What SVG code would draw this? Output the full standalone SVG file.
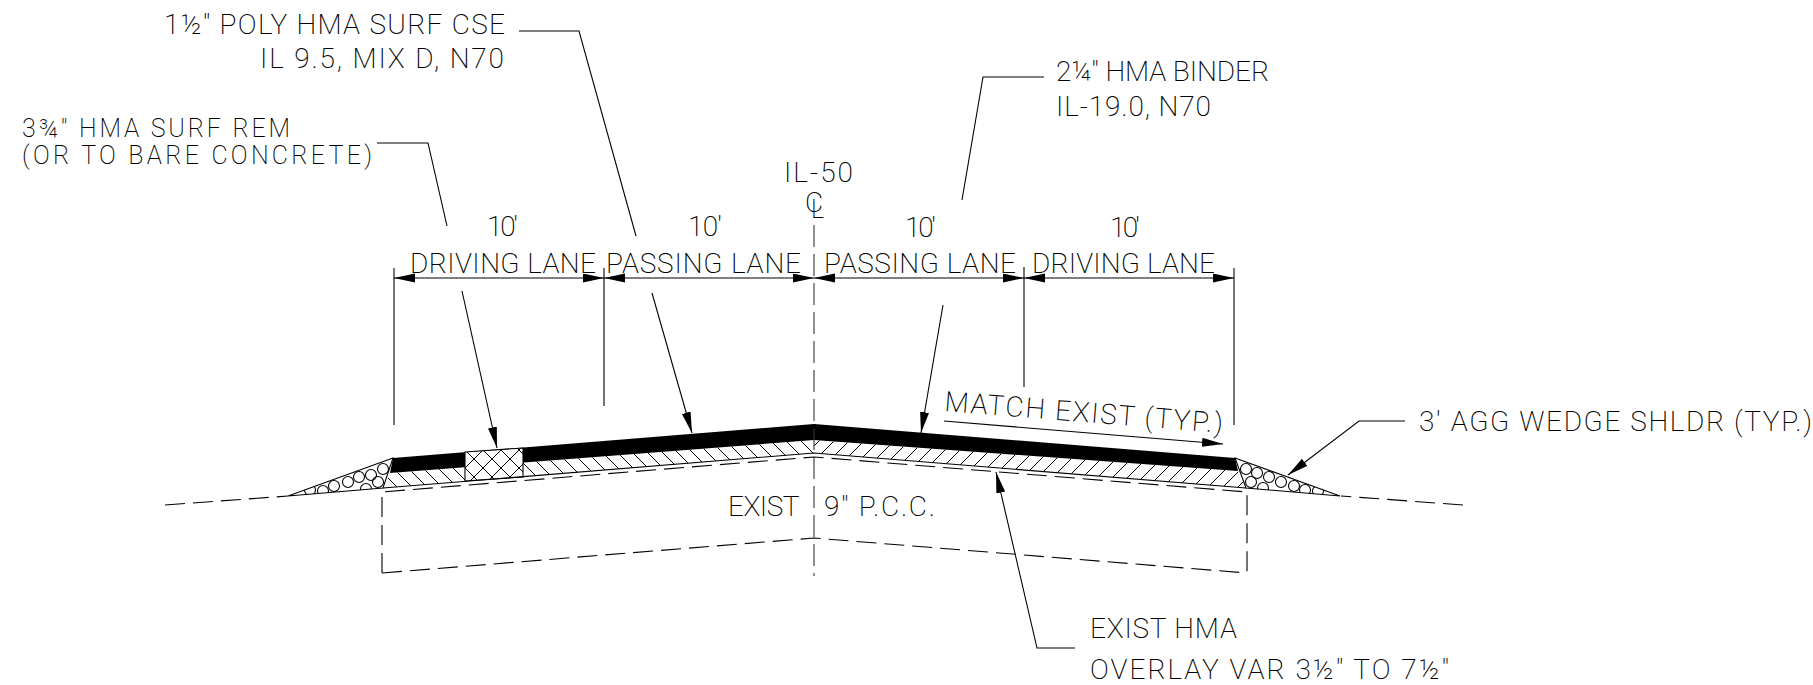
<svg xmlns="http://www.w3.org/2000/svg" width="1813" height="685" viewBox="0 0 1813 685">
<style>
text{font-family:"Roboto","Liberation Sans",sans-serif;font-weight:200;fill:#000;font-size:28px}
.s{font-size:25px}
line,polyline,polygon.o,circle{stroke:#000;stroke-width:1.1;fill:none}
.d{stroke-dasharray:20 8}
.c{stroke-dasharray:22 7;stroke:#333}
.a{marker-end:url(#h)}
.b{marker-start:url(#h);marker-end:url(#h)}
</style>
<defs>
<marker id="h" markerUnits="userSpaceOnUse" markerWidth="24" markerHeight="10" refX="21" refY="4.5" orient="auto-start-reverse"><path d="M0 0L21 4.5L0 9Z" fill="#000"/></marker>
<pattern id="hl" patternUnits="userSpaceOnUse" width="15" height="15"><path d="M0 0L15 15M-5 10L5 20M10 -5L20 5" stroke="#000" stroke-width="1"/></pattern>
<pattern id="hr" patternUnits="userSpaceOnUse" width="15" height="15"><path d="M15 0L0 15M5 -5L-5 5M20 10L10 20" stroke="#000" stroke-width="1"/></pattern>
<pattern id="hx" patternUnits="userSpaceOnUse" width="18" height="18" x="465" y="450"><path d="M0 0L18 18M18 0L0 18" stroke="#000" stroke-width="1"/></pattern>
<clipPath id="sl"><polygon points="393,458 288,496 383,488"/></clipPath>
<clipPath id="sr"><polygon points="1235,458 1340,496 1246,488"/></clipPath>
</defs>
<rect width="1813" height="685" fill="#fff"/>
<g id="pavement">
<polygon points="814,440 390,473 383,488 814,453" fill="url(#hl)"/>
<polygon points="814,440 1238,471 1246,488 814,453" fill="url(#hr)"/>
<polygon points="814,424 393,458 390,473 814,440" fill="#000"/>
<polygon points="814,424 1235,458 1238,471 814,440" fill="#000"/>
<polygon points="465,452 523,448 523,477 465,481" fill="#fff"/>
<polygon class="o" points="465,452 523,448 523,477 465,481" style="fill:url(#hx)"/>
<polyline points="383,488 814,453 1246,488"/>
</g>
<g id="shoulder-left">
<polygon class="o" points="393,458 288,496 383,488"/>
<g clip-path="url(#sl)"><circle cx="383" cy="469" r="5.5"/><circle cx="378" cy="482" r="5.5"/><circle cx="371" cy="475" r="5.5"/><circle cx="359" cy="477" r="5.5"/><circle cx="348" cy="482" r="5.5"/><circle cx="334" cy="486" r="5.5"/><circle cx="323" cy="491" r="5.5"/><circle cx="310" cy="490" r="5.5"/><circle cx="366" cy="489" r="5.5"/></g>
</g>
<g id="shoulder-right">
<polygon class="o" points="1235,458 1340,496 1246,488"/>
<g clip-path="url(#sr)"><circle cx="1246" cy="469" r="5.5"/><circle cx="1251" cy="482" r="5.5"/><circle cx="1257" cy="473" r="5.5"/><circle cx="1269" cy="477" r="5.5"/><circle cx="1281" cy="482" r="5.5"/><circle cx="1294" cy="486" r="5.5"/><circle cx="1305" cy="490" r="5.5"/><circle cx="1318" cy="491" r="5.5"/><circle cx="1263" cy="488" r="5.5"/></g>
</g>
<g id="existing-pcc">
<polyline class="d" points="382,573 382,492 814,457 1247,492 1247,573"/>
<polyline class="d" points="382,573 814,538 1247,573"/>
<line class="d" x1="165" y1="505" x2="288" y2="496"/>
<line class="d" x1="1463" y1="505" x2="1341" y2="496"/>
</g>
<g id="connectors">
<line class="c" x1="814" y1="225" x2="814" y2="576"/>
<line x1="394" y1="268" x2="394" y2="425"/>
<line x1="604" y1="268" x2="604" y2="406"/>
<line x1="1024" y1="267" x2="1024" y2="387"/>
<line x1="1234" y1="268" x2="1234" y2="425"/>
<line class="b" x1="394" y1="278" x2="604" y2="278"/>
<line class="b" x1="604" y1="278" x2="814" y2="278"/>
<line class="b" x1="814" y1="278" x2="1024" y2="278"/>
<line class="b" x1="1024" y1="278" x2="1234" y2="278"/>
<polyline points="519,31 579,31 636,236"/>
<polyline points="377,143 428,143 447,226"/>
<polyline points="1044,77 983,77 962,200"/>
<line class="a" x1="462" y1="291" x2="497" y2="448"/>
<line class="a" x1="652" y1="293" x2="692" y2="433"/>
<line class="a" x1="943" y1="305" x2="921" y2="433"/>
<polyline class="a" points="1075,648 1037,648 996,472"/>
<polyline class="a" points="1405,421 1359,421 1288,475"/>
<line class="a" x1="944" y1="421" x2="1223" y2="444"/>
</g>
<g id="labels">
<text x="164" y="34" textLength="341" lengthAdjust="spacing">1½" POLY HMA SURF CSE</text>
<text x="260" y="68" textLength="244" lengthAdjust="spacing">IL 9.5, MIX D, N70</text>
<text class="s" x="22" y="137" textLength="268" lengthAdjust="spacing">3¾" HMA SURF REM</text>
<text class="s" x="22" y="164" textLength="350" lengthAdjust="spacing">(OR TO BARE CONCRETE)</text>
<text x="1056" y="81" textLength="213" lengthAdjust="spacing">2¼" HMA BINDER</text>
<text x="1056" y="116" textLength="155" lengthAdjust="spacing">IL-19.0, N70</text>
<text x="784" y="182" textLength="69" lengthAdjust="spacing">IL-50</text>
<text x="805" y="212">C<tspan x="811" y="218" class="s">L</tspan></text>
<text x="487" y="236" textLength="31" lengthAdjust="spacing">10'</text>
<text x="688" y="236" textLength="34" lengthAdjust="spacing">10'</text>
<text x="905" y="237" textLength="31" lengthAdjust="spacing">10'</text>
<text x="1110" y="237" textLength="30" lengthAdjust="spacing">10'</text>
<text x="410" y="273" textLength="186" lengthAdjust="spacing">DRIVING LANE</text>
<text x="606" y="273" textLength="195" lengthAdjust="spacing">PASSING LANE</text>
<text x="824" y="273" textLength="192" lengthAdjust="spacing">PASSING LANE</text>
<text x="1032" y="273" textLength="183" lengthAdjust="spacing">DRIVING LANE</text>
<text x="944" y="411" textLength="279" lengthAdjust="spacing" transform="rotate(4.5 944 411)">MATCH EXIST (TYP.)</text>
<text x="1419" y="431" textLength="393" lengthAdjust="spacing">3' AGG WEDGE SHLDR (TYP.)</text>
<text y="516"><tspan x="728" textLength="71" lengthAdjust="spacing">EXIST</tspan> <tspan x="824" textLength="111" lengthAdjust="spacing">9" P.C.C.</tspan></text>
<text x="1090" y="638" textLength="147" lengthAdjust="spacing">EXIST HMA</text>
<text x="1090" y="679" textLength="359" lengthAdjust="spacing">OVERLAY VAR 3½" TO 7½"</text>
</g>
</svg>
